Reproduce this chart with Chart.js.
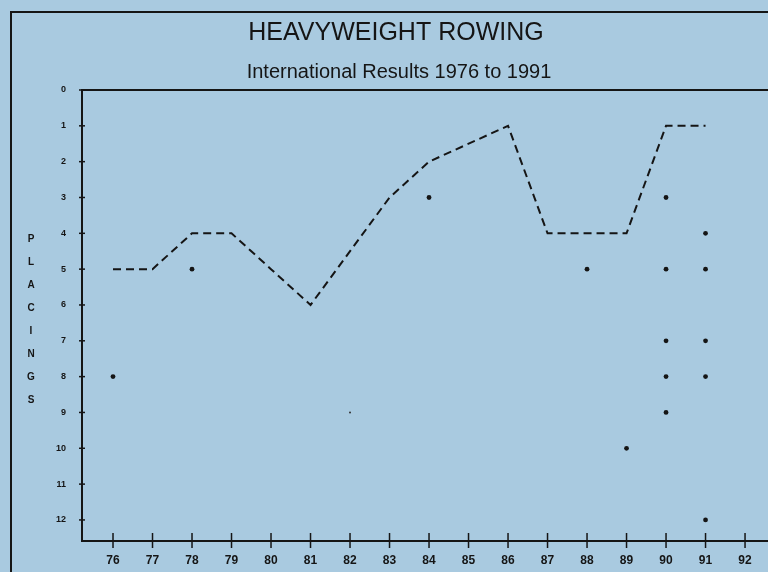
<!DOCTYPE html>
<html><head><meta charset="utf-8">
<script src="https://cdn.jsdelivr.net/npm/chart.js@4/dist/chart.umd.min.js"></script>
<style>html,body{margin:0;padding:0;background:#a9cae0;}canvas{display:block;}</style>
</head><body>
<canvas id="c" width="768" height="572"></canvas>
<script>
const titleText = "HEAVYWEIGHT ROWING";
const subtitleText = "International Results 1976 to 1991";
const axisLetters = ["P","L","A","C","I","N","G","S"];
// dashed line: best placing per year
const lineYears = [76, 77, 78, 79, 80, 81, 83, 84, 86, 87, 88, 89, 90, 91];
const linePlaces = [5, 5, 4, 4, 5, 6, 3, 2, 1, 4, 4, 4, 1, 1];
// other placings (dots)
const dotYears = [76, 78, 84, 88, 89, 90, 90, 90, 90, 90, 91, 91, 91, 91, 91];
const dotPlaces = [8, 5, 3, 5, 10, 3, 5, 7, 8, 9, 4, 5, 7, 8, 12];
const faintYears = [82];
const faintPlaces = [9];
const xTicks = [76,77,78,79,80,81,82,83,84,85,86,87,88,89,90,91,92];
const yTicks = [0,1,2,3,4,5,6,7,8,9,10,11,12];

const ink = '#151515';
const font = "'Liberation Sans', Arial, sans-serif";

const decor = {
  id: 'decor',
  beforeDraw(chart) {
    const ctx = chart.ctx;
    ctx.save();
    ctx.fillStyle = '#a9cae0';
    ctx.fillRect(0, 0, chart.width, chart.height);
    ctx.strokeStyle = ink; ctx.lineWidth = 2;
    ctx.beginPath();
    ctx.moveTo(11, chart.height); ctx.lineTo(11, 12); ctx.lineTo(chart.width, 12);
    ctx.stroke();
    ctx.restore();
  },
  afterDraw(chart) {
    const ctx = chart.ctx, a = chart.chartArea;
    const xs = chart.scales.x, ys = chart.scales.y;
    ctx.save();
    ctx.strokeStyle = ink; ctx.lineWidth = 2;
    ctx.beginPath(); ctx.moveTo(a.left - 1, a.top); ctx.lineTo(chart.width, a.top); ctx.stroke();
    ctx.beginPath(); ctx.moveTo(a.left - 1, a.bottom + 1); ctx.lineTo(chart.width, a.bottom + 1); ctx.stroke();
    ctx.lineWidth = 1.5;
    xTicks.forEach(v => {
      const px = xs.getPixelForValue(v);
      ctx.beginPath(); ctx.moveTo(px, a.bottom - 7); ctx.lineTo(px, a.bottom + 8); ctx.stroke();
    });
    yTicks.forEach(v => {
      const py = ys.getPixelForValue(v);
      ctx.beginPath(); ctx.moveTo(a.left - 3, py); ctx.lineTo(a.left + 3, py); ctx.stroke();
    });
    ctx.fillStyle = ink;
    ctx.textAlign = 'center'; ctx.textBaseline = 'middle';
    ctx.font = "25px " + font;
    ctx.fillText(titleText, 396, 33);
    ctx.font = "20px " + font;
    ctx.fillText(subtitleText, 399, 72);
    ctx.font = "bold 10px " + font;
    axisLetters.forEach((ch, i) => ctx.fillText(ch, 31, 239 + i * 23));
    ctx.restore();
  }
};

new Chart(document.getElementById('c'), {
  type: 'scatter',
  data: {
    datasets: [
      {
        type: 'line',
        data: lineYears.map((x, i) => ({x, y: linePlaces[i]})),
        borderColor: ink, borderWidth: 2, borderDash: [8, 5],
        pointRadius: 0, fill: false, tension: 0
      },
      {
        data: dotYears.map((x, i) => ({x, y: dotPlaces[i]})),
        backgroundColor: ink, borderColor: ink, pointRadius: 2.4, borderWidth: 0
      },
      {
        data: faintYears.map((x, i) => ({x, y: faintPlaces[i]})),
        backgroundColor: '#333', borderColor: '#333', pointRadius: 1, borderWidth: 0
      }
    ]
  },
  options: {
    responsive: false, animation: false,
    layout: { padding: { top: 90, left: 0, right: 0, bottom: 0 } },
    plugins: { legend: { display: false }, tooltip: { enabled: false } },
    scales: {
      x: {
        type: 'linear', min: 75.215, max: 92.48,
        afterFit(s) { s.height = 32; },
        grid: { display: false },
        border: { display: false },
        ticks: {
          stepSize: 1, includeBounds: false, autoSkip: false, maxRotation: 0,
          color: ink, padding: 5, font: { family: font, size: 12, weight: 'bold' }
        }
      },
      y: {
        type: 'linear', reverse: true, min: 0, max: 12.56,
        afterFit(s) { s.width = 82; },
        grid: { display: false },
        border: { display: true, color: ink, width: 2 },
        ticks: {
          stepSize: 1, includeBounds: false, autoSkip: false,
          color: ink, padding: 8, font: { family: font, size: 9, weight: 'bold' }
        }
      }
    }
  },
  plugins: [decor]
});
</script>
</body></html>
